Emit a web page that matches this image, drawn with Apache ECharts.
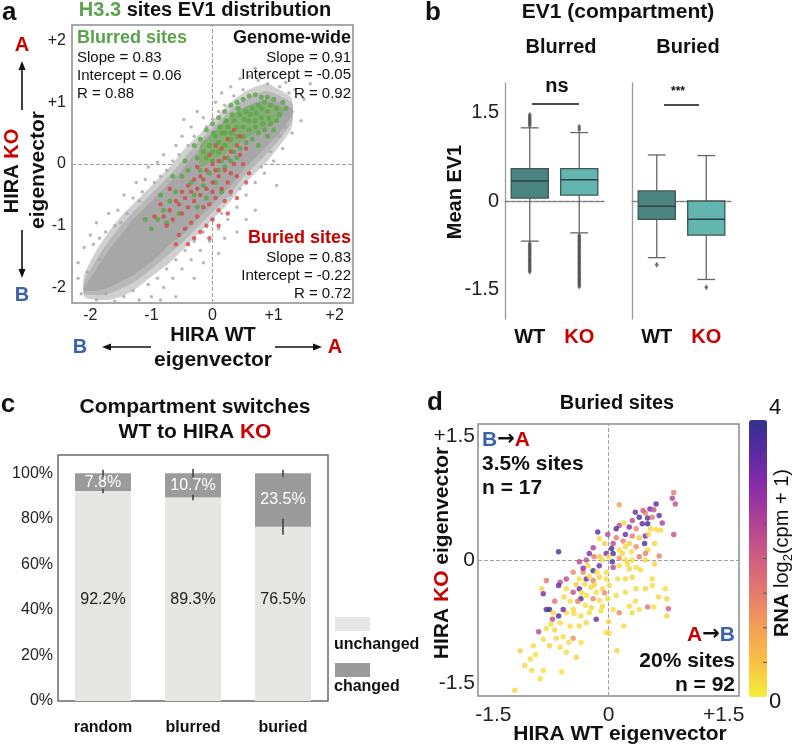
<!DOCTYPE html>
<html>
<head>
<meta charset="utf-8">
<script src="https://cdn.jsdelivr.net/npm/echarts@6/dist/echarts.min.js"></script>
<style>
html, body { margin: 0; padding: 0; background: #fff; }
#chart { width: 794px; height: 746px; }
</style>
</head>
<body>
<div id="chart"></div>
<script>
var FONT = '"Liberation Sans", Arial, Helvetica, sans-serif';
var RED = '#c80000', BLUE = '#3c62ad', GREEN = '#5ba34a';

// ---- a: H3.3 sites EV1 distribution (dense gray core as bands + scattered sites)
var bandX    = [-2.1, -1.9, -1.7, -1.5, -1.3, -1.1, -0.9, -0.7, -0.5, -0.3, -0.1, 0.1, 0.3, 0.5, 0.7, 0.9, 1.1, 1.3];
var innerLo  = [-2.05, -2.05, -2.0, -1.9, -1.8, -1.65, -1.5, -1.3, -1.15, -0.95, -0.75, -0.55, -0.35, -0.1, 0.1, 0.3, 0.5, 0.8];
var innerHi  = [-2.0, -1.7, -1.4, -1.15, -0.9, -0.7, -0.5, -0.3, -0.1, 0.15, 0.35, 0.55, 0.75, 0.9, 1.0, 1.05, 1.0, 0.9];
var midLo    = [-2.1, -2.12, -2.1, -2.02, -1.92, -1.78, -1.62, -1.45, -1.28, -1.08, -0.88, -0.68, -0.48, -0.22, -0.02, 0.18, 0.4, 0.7];
var midHi    = [-1.9, -1.55, -1.25, -1.0, -0.78, -0.58, -0.38, -0.18, 0.05, 0.28, 0.48, 0.68, 0.88, 1.03, 1.13, 1.18, 1.1, 0.98];
var outerLo  = [-2.15, -2.2, -2.2, -2.15, -2.05, -1.9, -1.75, -1.6, -1.4, -1.2, -1.0, -0.8, -0.6, -0.35, -0.15, 0.05, 0.3, 0.6];
var outerHi  = [-1.8, -1.4, -1.1, -0.85, -0.65, -0.45, -0.25, -0.05, 0.2, 0.4, 0.6, 0.8, 1.0, 1.15, 1.25, 1.3, 1.2, 1.05];
var greenX   = [-0.2, 0.0, 0.2, 0.4, 0.6, 0.8, 1.0, 1.15];
var greenLo  = [-0.05, 0.05, 0.15, 0.3, 0.45, 0.55, 0.65, 0.8];
var greenHi  = [0.3, 0.5, 0.7, 0.85, 0.95, 1.0, 0.98, 0.9];
var grayPts = [
  [-2.2,-1.6],[-2.1,-1.35],[-2.0,-1.15],[-1.9,-0.95],[-1.75,-1.1],[-1.7,-0.8],[-1.55,-0.75],[-1.45,-0.5],[-1.3,-0.55],[-1.25,-0.3],
  [-1.1,-0.25],[-1.05,-0.05],[-0.9,0.03],[-0.8,0.15],[-0.75,-0.1],[-0.6,0.3],[-0.5,0.45],[-0.47,0.72],[-0.35,0.6],[-0.25,0.85],
  [-0.15,0.75],[0.0,0.73],[0.05,1.0],[0.15,1.15],[0.3,1.25],[0.45,1.38],[0.6,1.42],[0.8,1.45],[1.0,1.42],[1.2,1.32],
  [1.35,1.2],[1.5,1.05],[1.45,0.7],[1.3,0.5],[1.15,0.25],[1.0,0.05],[0.85,-0.15],[0.7,-0.3],[0.55,-0.5],[0.4,-0.7],
  [0.25,-0.9],[0.1,-1.05],[-0.05,-1.25],[-0.2,-1.4],[-0.35,-1.55],[-0.5,-1.7],[-0.65,-1.85],[-0.8,-2.0],[-1.0,-2.15],[-1.2,-2.2],
  [-0.6,-2.15],[-0.3,-1.85],[0.1,-1.45],[0.4,-1.1],[0.7,-0.75],[1.05,-0.35],[-1.6,-2.22],[-1.9,-2.2],[-2.15,-2.1],[-2.2,-1.85],
  [-1.95,-1.3],[-1.6,-1.0],[-1.4,-0.8],[-1.15,-0.45],[-0.95,-0.3],[-0.65,0.05],[-0.4,0.3],[-0.1,0.6],[0.2,0.95],[0.5,1.2],
  [0.9,1.3],[1.25,1.15],[1.2,0.6],[0.95,0.2],[0.6,-0.15],[0.3,-0.5],[0.0,-0.9],[-0.3,-1.25],[-0.6,-1.55],[-0.9,-1.85],
  [-1.3,-2.05],[-1.75,-2.1],[-2.05,-1.75],[-1.85,-1.55],[1.6,1.3],[0.7,1.55],[-0.85,-2.2],[0.2,-1.2],[-0.15,-1.6],[0.55,-0.9],
  [-1.85,-1.2],[-1.5,-0.95],[-1.2,-0.6],[-0.85,-0.2],[-0.55,0.15],[-0.3,0.45],[0.1,0.85],[0.35,1.1],[0.75,1.35],[1.1,1.25],
  [1.3,0.85],[1.1,0.45],[0.8,-0.05],[0.45,-0.4],[0.15,-0.8],[-0.15,-1.1],[-0.45,-1.4],[-0.75,-1.7],[-1.05,-1.95],[-1.45,-2.15]
];
var greenPts = [
  [0.0,0.2],[0.1,0.35],[0.2,0.3],[0.3,0.5],[0.4,0.45],[0.5,0.6],[0.6,0.55],[0.7,0.7],[0.8,0.75],[0.9,0.85],
  [0.25,0.6],[0.35,0.7],[0.45,0.8],[0.55,0.85],[0.65,0.9],[0.75,0.95],[0.85,1.0],[0.95,0.95],[1.05,0.9],[1.1,0.8],
  [0.15,0.5],[0.05,0.45],[-0.05,0.3],[-0.15,0.2],[-0.25,0.1],[-0.3,0.3],[-0.2,0.4],[-0.1,0.55],[0.0,0.65],[0.1,0.75],
  [0.2,0.85],[0.3,0.95],[0.4,1.0],[0.5,1.05],[0.6,1.1],[0.7,1.12],[0.8,1.08],[0.9,1.08],[1.0,1.05],[1.15,1.0],
  [0.55,0.35],[0.65,0.4],[0.75,0.5],[0.85,0.55],[0.95,0.65],[1.05,0.7],[0.45,0.25],[0.35,0.2],[0.25,0.1],[0.15,0.05],
  [0.5,0.45],[0.6,0.7],[0.7,0.6],[0.8,0.9],[0.4,0.6],[0.3,0.4],[0.2,0.5],[0.1,0.2],[0.0,0.05],[-0.1,0.1],
  [0.62,0.8],[0.72,0.82],[0.82,0.65],[0.92,0.75],[0.52,0.72],[0.42,0.9],[0.32,0.8],[0.22,0.7],[0.12,0.6],[0.02,0.5],
  [-0.4,-0.1],[-0.5,-0.2],[-0.35,-0.3],[-0.6,-0.45],[-0.7,-0.6],[-0.8,-0.75],[-0.9,-0.9],[-1.0,-1.05],[-0.55,-0.8],[-0.75,-0.95],
  [-0.45,0.05],[-0.2,-0.1],[-0.05,-0.15],[0.1,-0.1],[0.2,-0.05],[0.3,0.05],[0.4,0.1],[-0.3,-0.5],[-0.15,-0.35],[0.05,-0.3],
  [1.2,0.9],[1.0,0.55],[0.9,0.45],[0.75,0.3],[-1.1,-0.9],[-0.85,-0.5],[-0.65,-0.2],[-0.25,-0.7],[-0.1,-0.55],[0.15,-0.45]
];
var redPts = [
  [-0.1,-0.4],[0.0,-0.3],[-0.2,-0.5],[-0.3,-0.6],[0.1,-0.2],[0.2,-0.1],[-0.4,-0.7],[-0.5,-0.8],[0.05,-0.55],[-0.15,-0.7],
  [-0.25,-0.85],[-0.35,-0.95],[-0.45,-1.05],[-0.55,-1.15],[0.15,-0.4],[0.25,-0.3],[0.3,-0.15],[0.35,0.0],[0.2,0.1],[0.1,0.05],
  [0.0,0.0],[-0.1,-0.1],[-0.2,-0.2],[-0.3,-0.25],[-0.4,-0.35],[-0.5,-0.45],[-0.6,-0.6],[-0.7,-0.75],[-0.65,-0.9],[-0.75,-1.0],
  [0.3,0.2],[0.4,0.3],[0.45,0.15],[0.5,0.0],[0.4,-0.2],[0.3,-0.45],[0.2,-0.6],[0.1,-0.75],[0.0,-0.9],[-0.1,-1.0],
  [-0.2,-1.1],[-0.3,-1.2],[-0.05,-0.65],[-0.15,-0.25],[0.05,-0.1],[0.15,0.25],[0.25,0.4],[0.05,0.3],[-0.05,0.15],[-0.25,-0.05],
  [-0.45,-0.55],[-0.55,-0.65],[-0.35,-0.45],[-0.8,-0.85],[-0.6,-1.3],[-0.4,-1.3],[0.55,-0.3],[0.6,-0.15],[0.45,0.45],[0.35,0.55],
  [0.25,-0.8],[0.4,-0.55],[-0.05,-1.2],[0.1,-1.0],[0.55,0.25],[-0.7,-0.4],[-0.85,-0.65],[-0.95,-0.85],[0.0,-0.45],[-0.25,-0.4]
];

// ---- b: EV1 boxplots  [min, q1, median, q3, max]
var bCats = ['WT', 'KO'];
var blurredBox = [[-0.68, 0.05, 0.34, 0.55, 1.24], [-0.54, 0.10, 0.36, 0.55, 1.16]];
var buriedBox  = [[-0.96, -0.31, -0.09, 0.17, 0.78], [-1.33, -0.58, -0.31, 0.0, 0.77]];
var blurredWTOut = [1.28, 1.31, 1.34, 1.37, 1.40, 1.43, 1.46, -0.72, -0.75, -0.78, -0.81, -0.84, -0.87, -0.90, -0.93, -0.96, -0.99, -1.02, -1.05, -1.08, -1.11, -1.14, -1.17, -1.20];
var blurredKOOut = [1.21, 1.26, -0.58, -0.61, -0.64, -0.67, -0.70, -0.73, -0.76, -0.79, -0.82, -0.85, -0.88, -0.91, -0.94, -0.97, -1.00, -1.03, -1.06, -1.09, -1.12, -1.15, -1.18, -1.21, -1.24, -1.27, -1.30, -1.33, -1.36, -1.39, -1.42, -1.45];
var buriedWTOut = [-1.08];
var buriedKOOut = [-1.46];
var boxColors = ['#4b8581', '#63b5b0'];

// ---- c: compartment switches
var cCats = ['random', 'blurred', 'buried'];
var unchanged = [92.2, 89.3, 76.5];
var changed = [7.8, 10.7, 23.5];
var errTop = [1.5, 1.8, 1.5];
var errMid = [1.0, 1.2, 3.5];

// ---- d: buried sites [WT EV1, KO EV1, RNA log2(cpm+1)]
var dPts = [
  [0.85,0.82,1.5],[0.83,0.75,2.5],[0.87,0.68,2.3],[0.85,0.31,2.3],[0.14,0.67,1.0],
  [0.54,0.62,3.3],[0.59,0.61,2.2],[0.48,0.57,1.3],[0.66,0.54,3.4],[0.40,0.52,3.8],
  [0.51,0.51,3.5],[0.57,0.52,1.5],[0.31,0.48,2.4],[0.44,0.44,3.5],[0.51,0.44,3.9],
  [0.27,0.40,3.2],[0.36,0.38,1.4],[0.55,0.38,0.3],[0.62,0.37,0.2],[0.68,0.36,0.2],
  [0.14,0.42,2.4],[0.22,0.31,3.3],[0.31,0.29,1.5],[0.40,0.27,0.4],[0.48,0.29,3.3],
  [0.52,0.31,0.3],[-0.14,0.34,3.5],[-0.12,0.26,0.2],[-0.01,0.31,2.5],[0.06,0.20,2.4],
  [0.10,0.27,1.5],[0.19,0.23,1.4],[0.27,0.20,0.4],[0.47,0.20,3.8],[0.51,0.12,0.3],
  [0.36,0.16,1.3],[0.22,0.16,0.3],[0.14,0.12,0.2],[0.04,0.14,3.9],[0.06,0.08,3.8],
  [-0.03,0.08,3.4],[0.0,0.04,0.2],[-0.08,0.0,0.2],[-0.12,0.04,0.4],[-0.19,0.04,1.5],
  [-0.25,0.08,3.2],[-0.29,0.0,2.3],[-0.38,-0.02,2.5],[-0.65,0.10,3.7],[0.14,0.02,1.2],
  [0.22,0.0,0.2],[0.31,0.0,0.2],[0.40,0.04,1.6],[0.48,0.08,1.4],[0.48,0.0,0.3],
  [0.14,-0.07,0.2],[0.27,-0.11,0.3],[0.36,-0.09,0.2],[0.06,-0.09,2.4],[-0.03,-0.15,0.2],
  [-0.12,-0.07,3.4],[-0.2,-0.13,3.8],[-0.27,-0.07,0.3],[-0.33,-0.15,1.3],[-0.38,-0.23,0.2],
  [-0.29,-0.23,3.3],[-0.2,-0.25,1.4],[-0.12,-0.21,0.3],[-0.03,-0.23,0.2],[0.01,-0.31,0.2],
  [0.12,-0.23,0.2],[0.22,-0.23,0.2],[0.31,-0.21,0.3],[0.57,-0.23,0.2],[-0.46,-0.15,1.3],
  [-0.55,-0.23,2.4],[-0.63,-0.27,2.3],[-0.81,-0.25,1.6],[-0.87,-0.35,0.3],[-0.85,-0.41,3.3],
  [-0.65,-0.31,3.5],[-0.55,-0.35,0.2],[-0.46,-0.39,2.3],[-0.38,-0.35,3.4],[-0.31,-0.29,0.2],
  [-0.23,-0.33,0.3],[-0.16,-0.39,0.2],[-0.08,-0.35,0.3],[-0.29,-0.43,0.2],[-0.36,-0.47,3.8],
  [-0.2,-0.47,1.4],[-0.12,-0.49,0.2],[-0.01,-0.47,0.2],[0.10,-0.43,0.2],[0.22,-0.39,0.2],
  [0.36,-0.35,0.2],[0.48,-0.35,0.3],[0.57,-0.31,0.2],[0.74,-0.35,0.2],[0.65,-0.45,0.3],
  [0.76,-0.47,0.3],[0.78,-0.59,2.0],[0.76,-0.68,0.3],[0.51,-0.57,1.6],[0.59,-0.57,0.2],
  [0.40,-0.60,0.2],[0.31,-0.64,0.2],[0.27,-0.56,0.2],[0.14,-0.64,1.3],[0.06,-0.60,0.2],
  [-0.08,-0.56,0.3],[-0.16,-0.72,3.4],[-0.25,-0.64,0.2],[-0.36,-0.68,0.2],[-0.46,-0.60,0.3],
  [-0.55,-0.64,0.2],[-0.59,-0.60,3.3],[-0.65,-0.68,3.7],[-0.73,-0.72,2.3],[-0.81,-0.60,3.6],
  [-0.77,-0.60,3.9],[-0.72,-0.64,0.3],[-0.63,-0.76,0.2],[-0.50,-0.80,0.2],[-0.38,-0.80,0.2],
  [-0.29,-0.76,0.3],[-0.03,-0.88,0.2],[0.01,-0.89,0.2],[-0.91,-0.87,2.4],[-0.81,-0.83,0.2],
  [-0.70,-0.85,0.3],[-0.59,-0.93,0.2],[-0.46,-0.95,1.2],[-0.36,-1.0,0.2],[-0.85,-0.96,0.2],
  [-0.77,-1.04,0.3],[-0.63,-1.06,0.2],[-0.55,-1.12,0.2],[-0.98,-1.04,0.2],[-1.02,-1.20,0.2],
  [-1.09,-1.28,0.3],[-1.0,-1.34,0.2],[-0.89,-1.44,0.2],[-0.85,-1.34,0.2],[-0.61,-1.36,0.2],
  [-1.22,-1.58,0.3],[0.11,-1.10,0.3],
  [-0.25,-0.2,0.2],[-0.18,-0.3,0.3],[-0.35,-0.4,0.2],[-0.42,-0.3,0.4],[-0.3,-0.55,0.2],
  [-0.22,-0.58,0.3],[-0.1,-0.62,0.2],[-0.05,-0.4,1.3],[-0.15,-0.15,0.2],[-0.4,-0.5,1.5],
  [-0.5,-0.5,0.2],[-0.58,-0.45,0.3],[-0.45,-0.65,0.2],[-0.33,-0.1,3.0],[-0.2,0.15,2.6],
  [-0.05,0.2,0.3],[0.05,-0.02,3.6],[0.18,0.08,0.3],[0.3,0.1,0.2],[0.25,-0.05,0.3],
  [0.42,-0.12,0.2],[0.6,-0.05,0.3],[0.66,0.05,1.4],[0.6,0.2,0.3],[0.7,0.45,2.6],
  [0.45,0.6,2.0],[0.35,0.58,3.4],[0.62,0.68,3.6],[0.2,0.45,0.3],[0.1,0.38,3.7],
  [-0.7,-0.5,1.6],[-0.75,-0.78,0.2],[-0.68,-0.95,0.3],[-0.52,-1.0,0.2],[-0.42,-1.18,0.3],
  [-0.95,-1.15,0.2],[-1.15,-1.1,0.3],[0.2,-0.8,0.2],[0.35,-0.5,0.2],[0.0,-0.75,0.3]
];
var rnaColors = ['#f2ef3a', '#fac044', '#f59e55', '#e57b6c', '#cf5d80', '#b24492', '#8d2ca9', '#5c2aa6', '#33308d'];

function near(v, t) { return Math.abs(v - t) < 1e-6; }

function bandRenderer(xs, lo, hi, fill) {
    return function(params, api) {
        var pts = [];
        for (var i = 0; i < xs.length; i++) pts.push(api.coord([xs[i], hi[i]]));
        for (var j = xs.length - 1; j >= 0; j--) pts.push(api.coord([xs[j], lo[j]]));
        return { type: 'polygon', shape: { points: pts, smooth: 0.25 }, style: { fill: fill } };
    };
}

function renderBox(params, api) {
    var c = api.value(0);
    var lo = api.coord([c, api.value(1)]);
    var q1 = api.coord([c, api.value(2)]);
    var md = api.coord([c, api.value(3)]);
    var q3 = api.coord([c, api.value(4)]);
    var hi = api.coord([c, api.value(5)]);
    var w = api.size([1, 0])[0];
    var bw = w * 0.75, cw = w * 0.36, x = lo[0];
    var ls = { stroke: '#666', lineWidth: 1.3 };
    return {
        type: 'group',
        children: [
            { type: 'line', shape: { x1: x, y1: hi[1], x2: x, y2: q3[1] }, style: ls },
            { type: 'line', shape: { x1: x, y1: q1[1], x2: x, y2: lo[1] }, style: ls },
            { type: 'line', shape: { x1: x - cw / 2, y1: hi[1], x2: x + cw / 2, y2: hi[1] }, style: ls },
            { type: 'line', shape: { x1: x - cw / 2, y1: lo[1], x2: x + cw / 2, y2: lo[1] }, style: ls },
            { type: 'rect', shape: { x: x - bw / 2, y: q3[1], width: bw, height: q1[1] - q3[1] },
              style: { fill: boxColors[c], stroke: '#3f5553', lineWidth: 1.3 } },
            { type: 'line', shape: { x1: x - bw / 2, y1: md[1], x2: x + bw / 2, y2: md[1] },
              style: { stroke: '#2e4240', lineWidth: 1.6 } }
        ]
    };
}

function renderErr(params, api) {
    var c = api.value(0), m = api.value(1), e = api.value(2);
    var a = api.coord([c, m + e]), b = api.coord([c, m - e]);
    return { type: 'line', shape: { x1: a[0], y1: a[1], x2: b[0], y2: b[1] }, style: { stroke: '#444', lineWidth: 1.6 } };
}

function boxData(arr) { return arr.map(function(d, i) { return [i].concat(d); }); }
function outData(cat, arr) { return arr.map(function(v) { return [cat, v]; }); }

function zeroLines(list, color) {
    return { silent: true, symbol: ['none', 'none'], z: 1, label: { show: false },
             lineStyle: { type: 'dashed', color: color || '#a0a0a0', width: 1 }, data: list };
}

function richSet(size, bold) {
    var base = { fontSize: size, fontWeight: bold ? 'bold' : 'normal', fontFamily: FONT };
    function c(col) { return Object.assign({ fill: col }, base); }
    return { k: c('#111'), r: c(RED), b: c(BLUE), g: c(GREEN),
             a: { fill: '#111', fontSize: size, fontWeight: 'bold', fontFamily: '"DejaVu Sans", sans-serif' } };
}

function txt(x, y, text, size, opt) {
    opt = opt || {};
    var al = opt.align || 'center';
    var st = {
        text: text, fontSize: size, fontWeight: opt.bold ? 'bold' : 'normal', fontFamily: FONT,
        fill: opt.color || '#111', align: al, textAlign: al, verticalAlign: 'middle', textVerticalAlign: 'middle'
    };
    if (opt.rich) st.rich = opt.rich;
    return { type: 'text', x: x, y: y, rotation: opt.rot || 0, style: st, z: 100 };
}
function seg(x1, y1, x2, y2, w) {
    return { type: 'line', shape: { x1: x1, y1: y1, x2: x2, y2: y2 }, style: { stroke: '#111', lineWidth: w || 1.6 }, z: 100 };
}
function head(pts) {
    return { type: 'polygon', shape: { points: pts }, style: { fill: '#111' }, z: 100 };
}

var R = Math.PI / 2;
var graphics = [
    // a
    txt(2, 13, 'a', 26, { bold: true, align: 'left' }),
    txt(205, 10, '{g|H3.3}{k| sites EV1 distribution}', 20, { bold: true, rich: richSet(20, true) }),
    txt(77, 38, 'Blurred sites', 18, { bold: true, align: 'left', color: GREEN }),
    txt(77, 58, 'Slope = 0.83', 15, { align: 'left' }),
    txt(77, 76, 'Intercept = 0.06', 15, { align: 'left' }),
    txt(77, 94, 'R = 0.88', 15, { align: 'left' }),
    txt(351, 38, 'Genome-wide', 18, { bold: true, align: 'right' }),
    txt(351, 58, 'Slope = 0.91', 15, { align: 'right' }),
    txt(351, 75, 'Intercept = -0.05', 15, { align: 'right' }),
    txt(351, 94, 'R = 0.92', 15, { align: 'right' }),
    txt(351, 238, 'Buried sites', 18, { bold: true, align: 'right', color: RED }),
    txt(351, 258, 'Slope = 0.83', 15, { align: 'right' }),
    txt(351, 276, 'Intercept = -0.22', 15, { align: 'right' }),
    txt(351, 294, 'R = 0.72', 15, { align: 'right' }),
    txt(22, 45, 'A', 20, { bold: true, color: RED }),
    seg(22, 110, 22, 68), head([[22, 61], [18.5, 70], [25.5, 70]]),
    txt(12, 171, '{k|HIRA }{r|KO}', 20, { bold: true, rot: R, rich: richSet(20, true) }),
    txt(38, 170, 'eigenvector', 21, { bold: true, rot: R }),
    seg(22, 230, 22, 271), head([[22, 278], [18.5, 269], [25.5, 269]]),
    txt(22, 295, 'B', 20, { bold: true, color: BLUE }),
    txt(213, 335, 'HIRA WT', 20, { bold: true }),
    txt(213, 360, 'eigenvector', 21, { bold: true }),
    txt(80, 347, 'B', 20, { bold: true, color: BLUE }),
    seg(151, 347, 109, 347), head([[102, 347], [111, 343.5], [111, 350.5]]),
    seg(275, 347, 315, 347), head([[322, 347], [313, 343.5], [313, 350.5]]),
    txt(335, 347, 'A', 20, { bold: true, color: RED }),
    // b
    txt(433, 13, 'b', 26, { bold: true }),
    txt(618, 12, 'EV1 (compartment)', 21, { bold: true }),
    txt(561, 47, 'Blurred', 20, { bold: true }),
    txt(688, 47, 'Buried', 20, { bold: true }),
    txt(455, 192, 'Mean EV1', 20, { bold: true, rot: R }),
    txt(557, 86, 'ns', 20, { bold: true }),
    seg(532, 104, 579, 104, 1.5),
    txt(678, 92, '***', 12, { bold: true }),
    seg(664, 105, 699, 105, 1.5),
    // c
    txt(8, 405, 'c', 26, { bold: true }),
    txt(195, 407, 'Compartment switches', 21, { bold: true }),
    txt(195, 432, '{k|WT to HIRA }{r|KO}', 21, { bold: true, rich: richSet(21, true) }),
    { type: 'rect', shape: { x: 335, y: 617, width: 35, height: 14 }, style: { fill: '#e6e7e5' }, z: 100 },
    txt(334, 645, 'unchanged', 16, { bold: true, align: 'left' }),
    { type: 'rect', shape: { x: 335, y: 663, width: 35, height: 14 }, style: { fill: '#9b9b9b' }, z: 100 },
    txt(334, 687, 'changed', 16, { bold: true, align: 'left' }),
    // d
    txt(435, 403, 'd', 26, { bold: true }),
    txt(617, 403, 'Buried sites', 20, { bold: true }),
    txt(442, 553, '{k|HIRA }{r|KO}{k| eigenvector}', 21, { bold: true, rot: R, rich: richSet(21, true) }),
    txt(620, 734, 'HIRA WT eigenvector', 21, { bold: true }),
    txt(482, 440, '{b|B}{a|\u2192}{r|A}', 21, { bold: true, align: 'left', rich: richSet(21, true) }),
    txt(482, 464, '3.5% sites', 21, { bold: true, align: 'left' }),
    txt(482, 488, 'n = 17', 21, { bold: true, align: 'left' }),
    txt(735, 635, '{r|A}{a|\u2192}{b|B}', 21, { bold: true, align: 'right', rich: richSet(21, true) }),
    txt(735, 661, '20% sites', 21, { bold: true, align: 'right' }),
    txt(735, 685, 'n = 92', 21, { bold: true, align: 'right' }),
    txt(769, 408, '4', 22, { align: 'left' }),
    txt(769, 702, '0', 22, { align: 'left' }),
    txt(782, 553, '{a|RNA }{n|log}{s|2}{n|(cpm + 1)}', 20, {
        rot: R,
        rich: {
            a: { fontSize: 20, fontWeight: 'bold', fontFamily: FONT, fill: '#111', lineHeight: 26 },
            n: { fontSize: 20, fontFamily: FONT, fill: '#111', lineHeight: 26 },
            s: { fontSize: 13, fontFamily: FONT, fill: '#111', lineHeight: 26, verticalAlign: 'bottom' }
        }
    })
];
// colour bar minor ticks (every 0.5)
for (var t = 0.5; t < 4; t += 0.5) {
    var ty = 697 - t / 4 * 277;
    graphics.push({ type: 'line', shape: { x1: 763, y1: ty, x2: 767, y2: ty }, style: { stroke: '#555', lineWidth: 1 }, z: 100 });
}

var series = [
    { type: 'custom', xAxisIndex: 0, yAxisIndex: 0, silent: true, z: 2, data: [[0, 0]],
      renderItem: bandRenderer(bandX, outerLo, outerHi, '#d0d0d0') },
    { type: 'custom', xAxisIndex: 0, yAxisIndex: 0, silent: true, z: 2, data: [[0, 0]],
      renderItem: bandRenderer(bandX, midLo, midHi, '#b8b8b8') },
    { type: 'custom', xAxisIndex: 0, yAxisIndex: 0, silent: true, z: 2, data: [[0, 0]],
      renderItem: bandRenderer(bandX, innerLo, innerHi, '#a7a7a7') },
    { type: 'scatter', xAxisIndex: 0, yAxisIndex: 0, silent: true, z: 3, symbolSize: 3.5,
      itemStyle: { color: '#a7a7a7' }, data: grayPts,
      markLine: zeroLines([{ xAxis: 0 }, { yAxis: 0 }]) },
    { type: 'custom', xAxisIndex: 0, yAxisIndex: 0, silent: true, z: 3, data: [[0, 0]],
      renderItem: bandRenderer(greenX, greenLo, greenHi, '#86ad76') },
    { type: 'scatter', xAxisIndex: 0, yAxisIndex: 0, silent: true, z: 4, symbolSize: 5,
      itemStyle: { color: '#5aa847' }, data: greenPts },
    { type: 'scatter', xAxisIndex: 0, yAxisIndex: 0, silent: true, z: 5, symbolSize: 4.5,
      itemStyle: { color: '#d64848' }, data: redPts },

    { type: 'custom', xAxisIndex: 1, yAxisIndex: 1, z: 3, renderItem: renderBox,
      encode: { x: 0, y: [1, 2, 3, 4, 5] }, data: boxData(blurredBox),
      markLine: zeroLines([{ yAxis: 0 }], '#777') },
    { type: 'scatter', xAxisIndex: 1, yAxisIndex: 1, z: 3, symbol: 'diamond', symbolSize: [4, 6],
      itemStyle: { color: '#505050' }, data: outData(0, blurredWTOut).concat(outData(1, blurredKOOut)) },
    { type: 'custom', xAxisIndex: 2, yAxisIndex: 2, z: 3, renderItem: renderBox,
      encode: { x: 0, y: [1, 2, 3, 4, 5] }, data: boxData(buriedBox),
      markLine: zeroLines([{ yAxis: 0 }], '#777') },
    { type: 'scatter', xAxisIndex: 2, yAxisIndex: 2, z: 3, symbol: 'diamond', symbolSize: [4, 6],
      itemStyle: { color: '#505050' }, data: outData(0, buriedWTOut).concat(outData(1, buriedKOOut)) },

    { type: 'bar', xAxisIndex: 3, yAxisIndex: 3, stack: 'c', barWidth: 56, z: 2, data: unchanged,
      itemStyle: { color: '#e6e7e5' },
      label: { show: true, position: 'insideBottom', distance: 93, formatter: '{c}%', fontSize: 16, color: '#222' } },
    { type: 'bar', xAxisIndex: 3, yAxisIndex: 3, stack: 'c', barWidth: 56, z: 2, data: changed,
      itemStyle: { color: '#9b9b9b' },
      label: { show: true, position: 'inside', formatter: '{c}%', fontSize: 16, color: '#fff' } },
    { type: 'custom', xAxisIndex: 3, yAxisIndex: 3, z: 4, renderItem: renderErr, silent: true,
      data: cCats.map(function(c, i) { return [i, 100, errTop[i]]; })
            .concat(cCats.map(function(c, i) { return [i, unchanged[i], errMid[i]]; })) },

    { id: 'dScatter', type: 'scatter', xAxisIndex: 4, yAxisIndex: 4, z: 3, symbolSize: 5.5, data: dPts,
      markLine: zeroLines([{ xAxis: 0 }, { yAxis: 0 }]) }
];
var dIndex = series.length - 1;

var chart = echarts.init(document.getElementById('chart'));

var option = {
    animation: false,
    backgroundColor: '#fff',
    textStyle: { fontFamily: FONT },
    grid: [
        { left: 72, top: 25, width: 281, height: 278, show: true, borderColor: '#8c8c8c', borderWidth: 1.5 },
        { left: 505, top: 83, width: 99, height: 236 },
        { left: 632, top: 83, width: 99, height: 236 },
        { left: 58, top: 455, width: 270, height: 246, show: true, borderColor: '#6a6a6a', borderWidth: 1.5 },
        { left: 478, top: 424, width: 261, height: 272, show: true, borderColor: '#8c8c8c', borderWidth: 1.5 }
    ],
    xAxis: [
        { gridIndex: 0, type: 'value', min: -2.3, max: 2.3, interval: 0.1,
          axisLine: { show: false }, axisTick: { show: false }, splitLine: { show: false },
          axisLabel: { fontSize: 16, color: '#222', margin: 5, formatter: function(v) {
              if (!near(v, Math.round(v))) return '';
              var r = Math.round(v); return r > 0 ? '+' + r : String(r);
          } } },
        { gridIndex: 1, type: 'category', data: bCats,
          axisLine: { lineStyle: { color: '#9a9a9a', width: 1.3 } }, axisTick: { show: false },
          axisLabel: { margin: 8, formatter: function(v) { return v === 'KO' ? '{r|KO}' : '{k|WT}'; },
                       rich: { k: { fontSize: 20, fontWeight: 'bold', color: '#111' }, r: { fontSize: 20, fontWeight: 'bold', color: RED } } } },
        { gridIndex: 2, type: 'category', data: bCats,
          axisLine: { lineStyle: { color: '#9a9a9a', width: 1.3 } }, axisTick: { show: false },
          axisLabel: { margin: 8, formatter: function(v) { return v === 'KO' ? '{r|KO}' : '{k|WT}'; },
                       rich: { k: { fontSize: 20, fontWeight: 'bold', color: '#111' }, r: { fontSize: 20, fontWeight: 'bold', color: RED } } } },
        { gridIndex: 3, type: 'category', data: cCats,
          axisLine: { show: false }, axisTick: { show: false },
          axisLabel: { fontSize: 16, fontWeight: 'bold', color: '#111', margin: 19 } },
        { gridIndex: 4, type: 'value', min: -1.7, max: 1.7, interval: 0.1,
          axisLine: { show: false }, axisTick: { show: false }, splitLine: { show: false },
          axisLabel: { fontSize: 21, color: '#222', margin: 9, formatter: function(v) {
              if (near(v, 1.5)) return '+1.5';
              if (near(v, -1.5)) return '-1.5';
              if (near(v, 0)) return '0';
              return '';
          } } }
    ],
    yAxis: [
        { gridIndex: 0, type: 'value', min: -2.25, max: 2.25, interval: 0.25,
          axisLine: { show: false }, axisTick: { show: false }, splitLine: { show: false },
          axisLabel: { fontSize: 16, color: '#222', margin: 6, formatter: function(v) {
              if (!near(v, Math.round(v))) return '';
              var r = Math.round(v); return r > 0 ? '+' + r : String(r);
          } } },
        { gridIndex: 1, type: 'value', min: -2, max: 2, interval: 0.5,
          axisLine: { show: true, lineStyle: { color: '#9a9a9a', width: 1.3 } }, axisTick: { show: false }, splitLine: { show: false },
          axisLabel: { fontSize: 20, color: '#222', margin: 6, formatter: function(v) {
              if (near(v, 1.5)) return '1.5';
              if (near(v, -1.5)) return '-1.5';
              if (near(v, 0)) return '0';
              return '';
          } } },
        { gridIndex: 2, type: 'value', min: -2, max: 2, interval: 0.5,
          axisLine: { show: true, lineStyle: { color: '#9a9a9a', width: 1.3 } }, axisTick: { show: false }, splitLine: { show: false },
          axisLabel: { show: false } },
        { gridIndex: 3, type: 'value', min: 0, max: 108, interval: 20,
          axisLine: { show: false }, axisTick: { show: false }, splitLine: { show: false },
          axisLabel: { fontSize: 16, color: '#222', margin: 5, formatter: function(v) {
              return (v % 20 === 0) ? v + '%' : '';
          } } },
        { gridIndex: 4, type: 'value', min: -1.65, max: 1.65, interval: 0.15,
          axisLine: { show: false }, axisTick: { show: false }, splitLine: { show: false },
          axisLabel: { fontSize: 21, color: '#222', margin: 3, formatter: function(v) {
              if (near(v, 1.5)) return '+1.5';
              if (near(v, -1.5)) return '-1.5';
              if (near(v, 0)) return '0';
              return '';
          } } }
    ],
    visualMap: {
        type: 'continuous', seriesIndex: dIndex, dimension: 2, min: 0, max: 4,
        orient: 'vertical', left: 749, top: 420, itemWidth: 18, itemHeight: 277, padding: 0,
        calculable: false, hoverLink: false, text: null, showLabel: false,
        inRange: { color: rnaColors }
    },
    series: series,
    graphic: graphics
};

chart.setOption(option);
</script>
</body>
</html>
